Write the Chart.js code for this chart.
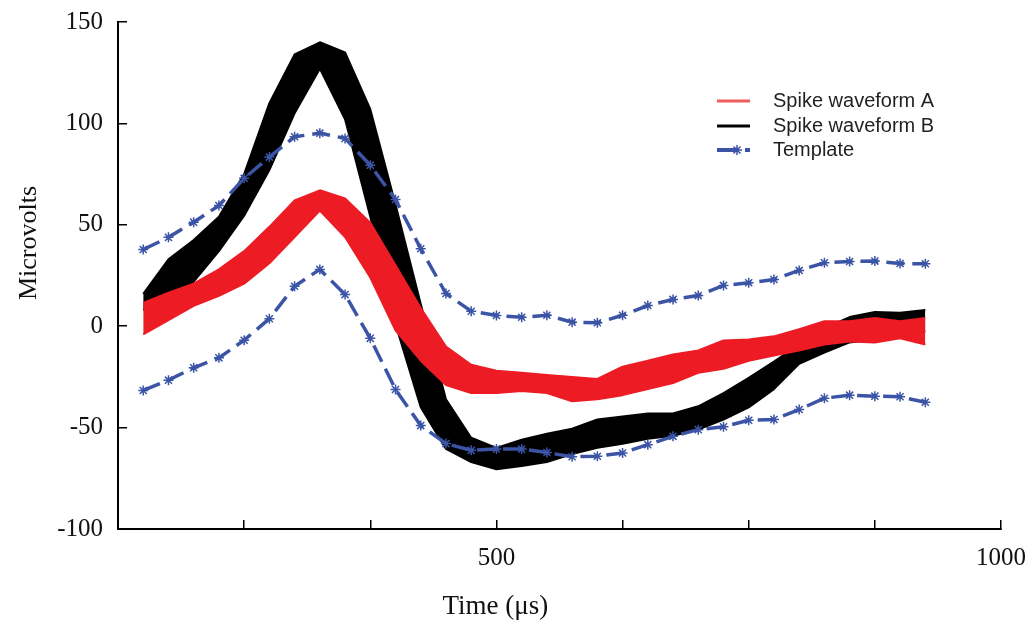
<!DOCTYPE html>
<html>
<head>
<meta charset="UTF-8">
<title>Spike waveforms and template</title>
<script src="https://cdn.jsdelivr.net/npm/chart.js"></script>
<style>
    html, body { margin: 0; padding: 0; background: #ffffff; }
    #wrap { width: 1034px; height: 629px; }
</style>
</head>
<body>
<div id="wrap"><canvas id="spikeChart"></canvas></div>
<script>
// sample times (µs)
const times = [150, 175, 200, 225, 250, 275, 300, 325, 350, 375, 400, 425, 450, 475, 500, 525,
               550, 575, 600, 625, 650, 675, 700, 725, 750, 775, 800, 825, 850, 875, 900, 925];

// spike waveform A: upper and lower edge of the bundle of traces
const aUpper = [11.5, 16.5, 21, 28, 37, 49, 62, 67, 63, 51, 30, 9, -10, -19, -22, -23,
                -24, -25, -26, -20, -17, -14, -12, -7, -6.5, -5, -1.5, 2.5, 2.5, 4, 2.5, 4];
const aLower = [-4, 3, 10, 15, 21, 31, 44, 57, 44, 24, -2, -17, -29, -33, -33, -32,
                -33, -37, -36, -34, -31, -28, -23, -21, -17, -14.5, -12, -9, -7.5, -8, -6, -9];

// spike waveform B
const bUpper = [16, 33, 42.5, 54, 75, 110, 134, 140, 135, 107, 60, 11, -36, -55, -60, -56,
                -53, -50.5, -46, -44.5, -43, -43, -39.5, -33, -25.5, -17.5, -9, -1, 4.5, 7, 6.6, 8];
const bLower = [8, 14, 22, 37, 54.5, 77, 105, 127, 102, 54, 1, -40, -60.5, -67, -70.5, -69,
                -67, -63, -60, -58, -55.5, -54, -51, -46, -40, -31, -18.5, -13, -8, -6.5, -5, -2.5];

// template bounds
const tUpper = [37.8, 43.8, 51.3, 59.5, 72.9, 83.4, 93.4, 95.2, 92.6, 79.4, 62.5, 38.2, 16.1, 7.4, 5.3, 4.4,
                5.4, 2.0, 1.7, 5.4, 10.2, 13.2, 15.1, 20.1, 21.4, 23.0, 27.5, 31.3, 31.9, 32.1, 30.9, 30.8];
const tLower = [-31.7, -26.6, -20.5, -15.6, -6.9, 3.7, 19.7, 28.0, 15.6, -6, -31.2, -49.0, -57.9, -61.2, -60.5, -60.6,
                -62.3, -64.4, -64.1, -62.5, -58.4, -54.3, -51.0, -49.6, -46.4, -46.0, -41.1, -35.5, -34.0, -34.5, -34.8, -37.5];

const xTicksShown = [500, 1000];

const RED = '#ed1c24';
const BLACK = '#000000';
const BLUE = '#3b54a5';

function pts(values) {
    return times.map(function(t, i) { return { x: t, y: values[i] }; });
}

function band(label, values, color, fill, order) {
    return {
        label: label,
        data: pts(values),
        borderColor: color,
        backgroundColor: color,
        borderWidth: 2,
        borderJoinStyle: 'round',
        pointRadius: 0,
        tension: 0,
        fill: fill,
        order: order
    };
}

function template(label, values) {
    return {
        label: label,
        data: pts(values),
        borderColor: BLUE,
        borderWidth: 3.5,
        borderDash: [18, 8],
        pointStyle: 'star',
        pointRadius: 5,
        pointBorderWidth: 1.5,
        pointBorderColor: BLUE,
        pointBackgroundColor: BLUE,
        tension: 0,
        fill: false,
        order: 1
    };
}

// legend drawn at top right of the plot
const legendBox = {
    id: 'legendBox',
    afterDraw(chart) {
        const ctx = chart.ctx;
        const rows = [
            { text: 'Spike waveform A', color: '#ef5d5d', dash: [], y: 101 },
            { text: 'Spike waveform B', color: BLACK, dash: [], y: 126 },
            { text: 'Template', color: BLUE, dash: [20, 8], y: 150, star: true }
        ];
        ctx.save();
        rows.forEach(function(r) {
            ctx.beginPath();
            ctx.setLineDash(r.dash);
            ctx.strokeStyle = r.color;
            ctx.lineWidth = r.star ? 4 : 3;
            ctx.moveTo(717, r.y);
            ctx.lineTo(750, r.y);
            ctx.stroke();
            if (r.star) {
                ctx.setLineDash([]);
                ctx.lineWidth = 1.5;
                ctx.beginPath();
                for (let k = 0; k < 4; k++) {
                    const a = k * Math.PI / 4;
                    ctx.moveTo(737 - 5 * Math.cos(a), r.y - 5 * Math.sin(a));
                    ctx.lineTo(737 + 5 * Math.cos(a), r.y + 5 * Math.sin(a));
                }
                ctx.stroke();
            }
            ctx.setLineDash([]);
            ctx.fillStyle = '#231f20';
            ctx.font = '20px "Liberation Sans", Arial, sans-serif';
            ctx.textBaseline = 'middle';
            ctx.textAlign = 'left';
            ctx.fillText(r.text, 773, r.y);
        });
        ctx.restore();
    }
};

Chart.defaults.font.family = '"Liberation Serif", "Times New Roman", serif';
Chart.defaults.color = '#111111';

const ctx = document.getElementById('spikeChart').getContext('2d');
new Chart(ctx, {
    type: 'line',
    data: {
        datasets: [
            band('Spike waveform A', aUpper, RED, false, 2),
            band('Spike waveform A lower', aLower, RED, '-1', 2),
            band('Spike waveform B', bUpper, BLACK, false, 3),
            band('Spike waveform B lower', bLower, BLACK, '-1', 3),
            template('Template', tUpper),
            template('Template lower', tLower)
        ]
    },
    options: {
        responsive: true,
        maintainAspectRatio: false,
        animation: false,
        devicePixelRatio: 1,
        layout: { padding: { top: 22, right: 33, left: 0, bottom: 0 } },
        plugins: {
            legend: { display: false },
            tooltip: { enabled: false }
        },
        scales: {
            x: {
                type: 'linear',
                min: 125,
                max: 1000,
                afterFit: function(scale) {
                    scale.height = 100;
                    scale.paddingLeft = 0;
                    scale.paddingRight = 0;
                },
                border: { display: true, color: BLACK, width: 2 },
                grid: { display: true, drawOnChartArea: false, drawTicks: true, tickLength: -9, color: BLACK, lineWidth: 1.5 },
                ticks: {
                    stepSize: 125,
                    autoSkip: false,
                    maxRotation: 0,
                    padding: 23,
                    font: { size: 25 },
                    callback: function(v) { return xTicksShown.indexOf(v) >= 0 ? String(v) : ''; }
                },
                title: {
                    display: true,
                    text: 'Time (μs)' + '                   ',
                    font: { size: 27 },
                    padding: { top: 0, bottom: 6 }
                }
            },
            y: {
                min: -100,
                max: 150,
                afterFit: function(scale) {
                    scale.width = 118;
                    scale.paddingTop = 0;
                    scale.paddingBottom = 0;
                },
                border: { display: true, color: BLACK, width: 2 },
                grid: { display: true, drawOnChartArea: false, drawTicks: true, tickLength: -9, color: BLACK, lineWidth: 1.5 },
                ticks: {
                    stepSize: 50,
                    padding: 24,
                    font: { size: 25 }
                },
                title: {
                    display: true,
                    text: '          ' + 'Microvolts',
                    font: { size: 26 },
                    padding: { top: 14, bottom: 0 }
                }
            }
        }
    },
    plugins: [legendBox]
});
</script>
</body>
</html>
